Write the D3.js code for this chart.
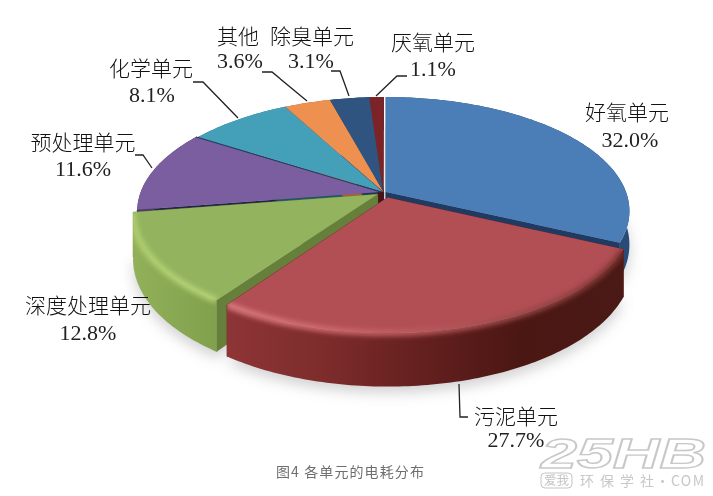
<!DOCTYPE html>
<html><head><meta charset="utf-8">
<script src="https://cdn.jsdelivr.net/npm/d3@7"></script>
<style>html,body{margin:0;padding:0;background:#fff}svg{display:block}</style>
</head><body><div id="c"></div>
<script>
const categories = ["好氧单元","污泥单元","深度处理单元","预处理单元","化学单元","其他","除臭单元","厌氧单元"];
const shares = [32.0,27.7,12.8,11.6,8.1,3.6,3.1,1.1];
const caption = "图4 各单元的电耗分布";

// styling (not data)
const topColors  = ["#4b7db6","#b14f55","#93b35f","#7a5e9f","#44a0b8","#ee9150","#2f5480","#7c2328"];
const wallColors = ["#1f3a63","#6a2222","#66803c","#24244a","#1f5566","#a86030","#1c3555","#4a1416"];
const sideColors = ["#2a4a78","url(#redSide)","url(#greenSide)","#4a3a66","#2a6a7c","#a86030","#1c3555","#4a1416"];
const offsets = [[0,0],[0.006,0.05],[-0.035,0.02],[-0.022,0],[-0.012,0],[-0.01,0],[-0.01,0],[-0.012,0]];
const depthScale = [0.75,1,1,1,1,1,1,1];
const labelPos = [[627,120,630,147],[516,424,516,447],[88,313,88,340],[83,150,83,176],[151,76,152,102],[238,44,240,68],[312,44,311,68],[433,50,433,76]];
const leaders = [null,[[459,384],[460,417],[468,417]],null,[[152,168],[143,155],[135,155]],[[238,118],[203,82],[193,82]],[[307,101],[272,72],[262,72]],[[349,96],[340,71],[331,71]],[[376,96],[397,76],[407,76]]];

const W=713,H=496,X0=386,Y0=192,A=240,B=110.8,P=0.167;
const svg=d3.select("#c").append("svg").attr("width",W).attr("height",H).attr("viewBox",`0 0 ${W} ${H}`);
svg.append("rect").attr("width",W).attr("height",H).attr("fill","#fff");
const defs=svg.append("defs");
function grad(id,stops){const g=defs.append("linearGradient").attr("id",id).attr("gradientUnits","userSpaceOnUse").attr("x1",130).attr("x2",630).attr("y1",0).attr("y2",0);
  stops.forEach(s=>g.append("stop").attr("offset",(s[0]-130)/500).attr("stop-color",s[1]));}
grad("redSide",[[225,"#8e3537"],[330,"#7c2b2b"],[430,"#621f1e"],[520,"#4b1713"],[630,"#4a1a16"]]);
grad("greenSide",[[130,"#93b15a"],[225,"#7f9f4c"],[630,"#7f9f4c"]]);
grad("redHi",[[225,"#e07f84"],[330,"#cf6a6e"],[430,"#b85a5c"],[520,"#9a4848"],[625,"#7a3230"]]);
grad("greenHi",[[130,"#b2d070"],[225,"#b8d678"],[630,"#b8d678"]]);
[["b2",2.4],["b7",7]].forEach(f=>defs.append("filter").attr("id",f[0]).attr("filterUnits","userSpaceOnUse").attr("x",0).attr("y",0).attr("width",W).attr("height",H).append("feGaussianBlur").attr("stdDeviation",f[1]));

const pie=d3.pie().sort(null).value(d=>d).startAngle(0).endAngle(2*Math.PI);
const arcs=pie(shares);
const line=d3.line().x(d=>d[0]).y(d=>d[1]);

function proj(u,v,o){const uu=u+o[0],vv=v+o[1],w=1-P*vv;return [X0+A*uu/w,Y0+B*vv/w,vv];}
const down=(p,i)=>[p[0],p[1]+(43+10*p[2])*depthScale[i]];
function rim(a,o){const n=Math.max(4,Math.ceil((a.endAngle-a.startAngle)*60)),r=[];
  for(let i=0;i<=n;i++){const t=a.startAngle+(a.endAngle-a.startAngle)*i/n;r.push(proj(Math.sin(t),-Math.cos(t),o));}return r;}

// soft shadow under the exploded front slices
const shadow=svg.append("g").attr("filter","url(#b7)").attr("opacity",.4);
[1,2,0].forEach(i=>{const o=offsets[i];const r=rim(arcs[i],o).map(p=>down(p,i));const ap=down(proj(0,0,o),i);
  shadow.append("path").attr("d",line([ap,...r])+"Z").attr("fill","#8a8a8a").attr("transform","translate(0,6)");});

function drawWalls(i,g){
  const a=arcs[i],o=offsets[i],r=rim(a,o),ap=proj(0,0,o);
  [r[0],r[r.length-1]].forEach(p=>g.append("path").attr("d",line([ap,p,down(p,i),down(ap,i)])+"Z").attr("fill",wallColors[i]).attr("stroke",wallColors[i]).attr("stroke-width",.5));
  g.append("path").attr("d",line([...r,...r.slice().reverse().map(p=>down(p,i))])+"Z").attr("fill",sideColors[i]);
}
function drawTop(i,g){
  const a=arcs[i],o=offsets[i],r=rim(a,o),ap=proj(0,0,o);
  g.append("path").attr("d",line([ap,...r])+"Z").attr("fill",topColors[i]);
  if(i===1||i===2){
    const id="clip"+i, cp=defs.append("clipPath").attr("id",id);
    cp.append("path").attr("d",line([ap,...r])+"Z");
    cp.append("path").attr("d",line([...r,...r.slice().reverse().map(p=>down(p,i))])+"Z");
    g.append("g").attr("clip-path",`url(#${id})`).append("path").attr("d",line(r)).attr("fill","none")
     .attr("stroke",i===1?"url(#redHi)":"url(#greenHi)").attr("stroke-width",6).attr("filter","url(#b2)");
  }
}
const back=svg.append("g");
[3,4,5,6,7,0].forEach(i=>drawWalls(i,back));
[3,4,5,6,7,0].forEach(i=>drawTop(i,back));
// dark seam between the purple and teal slices
{const o=offsets[3],r=rim(arcs[3],o);back.append("path").attr("d",line([proj(0,0,o),r[r.length-1]])).attr("stroke","#2b3a5e").attr("stroke-width",1).attr("fill","none");}
[2,1].forEach(i=>{const g=svg.append("g");drawWalls(i,g);drawTop(i,g);});

// leaders
leaders.forEach(l=>{if(l)svg.append("path").attr("d",line(l)).attr("fill","none").attr("stroke","#222").attr("stroke-width",1.3);});

// labels
categories.forEach((c,i)=>{const p=labelPos[i];
  svg.append("text").attr("x",p[0]).attr("y",p[1]).attr("text-anchor","middle").attr("font-family","'Noto Sans CJK SC'").attr("font-weight",300).attr("font-size",21).attr("fill","#111").text(c);
  svg.append("text").attr("x",p[2]).attr("y",p[3]).attr("text-anchor","middle").attr("font-family","'Liberation Serif'").attr("font-size",22).attr("fill","#222").text(d3.format(".1f")(shares[i])+"%");
});
svg.append("text").attr("x",276).attr("y",477).attr("font-family","'Noto Sans CJK SC'").attr("font-size",14).attr("letter-spacing",1.1).attr("fill","#6e6e6e").text(caption);

// watermark
svg.append("text").attr("x",541).attr("y",468).attr("textLength",165).attr("lengthAdjust","spacingAndGlyphs").attr("font-family","'Liberation Sans'").attr("font-weight","bold").attr("font-style","italic").attr("font-size",42).attr("fill","#fff").attr("stroke","#c8c8c8").attr("stroke-width",1.4).text("25HB");
svg.append("rect").attr("x",541).attr("y",473).attr("width",31).attr("height",15).attr("rx",4).attr("fill","none").attr("stroke","#c4c4c4");
svg.append("text").attr("x",544).attr("y",485).attr("font-family","'Noto Sans CJK SC'").attr("font-size",12.5).attr("fill","#c4c4c4").text("爱我");
svg.append("text").attr("x",580).attr("y",486).attr("textLength",124).attr("font-family","'Noto Sans CJK SC'").attr("font-size",14).attr("fill","#c8c8c8").text("环 保 学 社·COM");
</script></body></html>
